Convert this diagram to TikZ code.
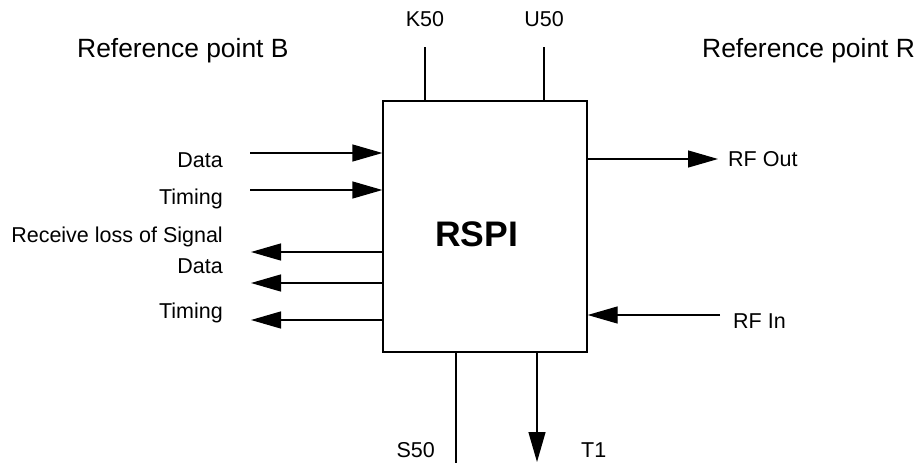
\documentclass[tikz,border=0pt]{standalone}
\usepackage{fontspec}
\setmainfont{Liberation Sans}
\usetikzlibrary{arrows.meta,positioning,calc}
\tikzset{
  >={Triangle[length=30pt,width=17pt]},
  sig/.style={->, line width=1.3pt},
  wire/.style={line width=1.3pt},
  lbl/.style={font=\fontsize{21.5}{25}\selectfont, inner sep=0pt},
  refpt/.style={font=\fontsize{26.4}{31}\selectfont, inner sep=0pt, anchor=base west},
}

\begin{document}
\begin{tikzpicture}[x=1pt,y=-1pt]
  \useasboundingbox (0,0) rectangle (915,463);
  \node[draw, line width=1.3pt, minimum width=204pt, minimum height=251pt, inner sep=0pt] (rspi) at (485,226.5) {};
  \node[font=\bfseries\fontsize{35.5}{40}\selectfont, anchor=base, inner sep=0pt] (name) at (476.5,246) {RSPI};
  \node[refpt] (refB) at (77,57) {Reference point B};
  \node[refpt] (refR) at (702,57) {Reference point R};
  % reference point B side
  \foreach \y/\n/\t/\ly in {153/din/Data/167, 190/tin/Timing/204} {
    \coordinate (\n) at (250,\y);
    \draw[sig] (\n) -- (\n -| rspi.west);
    \node[lbl, anchor=base east] (\n-l) at (223,\ly) {\t};
  }
  \foreach \y/\n/\t/\ly in {252/los/Receive loss of Signal/242, 283/dout/Data/273, 320/tout/Timing/318} {
    \coordinate (\n) at (251,\y);
    \draw[sig] (\n -| rspi.west) -- (\n);
    \node[lbl, anchor=base east] (\n-l) at (223,\ly) {\t};
  }
  % reference point R side
  \coordinate (rfout) at (718,159);
  \draw[sig] (rfout -| rspi.east) -- (rfout);
  \node[lbl, anchor=base west] (rfout-l) at (728,166) {RF Out};
  \coordinate (rfin) at (720,315);
  \draw[sig] (rfin) -- (rfin -| rspi.east);
  \node[lbl, anchor=base west] (rfin-l) at (733,328) {RF In};
  % top and bottom
  \foreach \x/\n/\t in {425/k50/K50, 544/u50/U50} {
    \coordinate (\n) at (\x,47);
    \draw[wire] (\n) -- (\n |- rspi.north);
    \node[lbl, anchor=base] (\n-l) at (\x,27) {\t};
  }
  \coordinate (s50) at (456,463);
  \draw[wire] (rspi.south -| s50) -- (s50);
  \node[lbl, anchor=base east] (s50-l) at (435,457) {S50};
  \coordinate (t1) at (537,462);
  \draw[sig] (rspi.south -| t1) -- (t1);
  \node[lbl, anchor=base west] (t1-l) at (581,457) {T1};
\end{tikzpicture}
\end{document}
